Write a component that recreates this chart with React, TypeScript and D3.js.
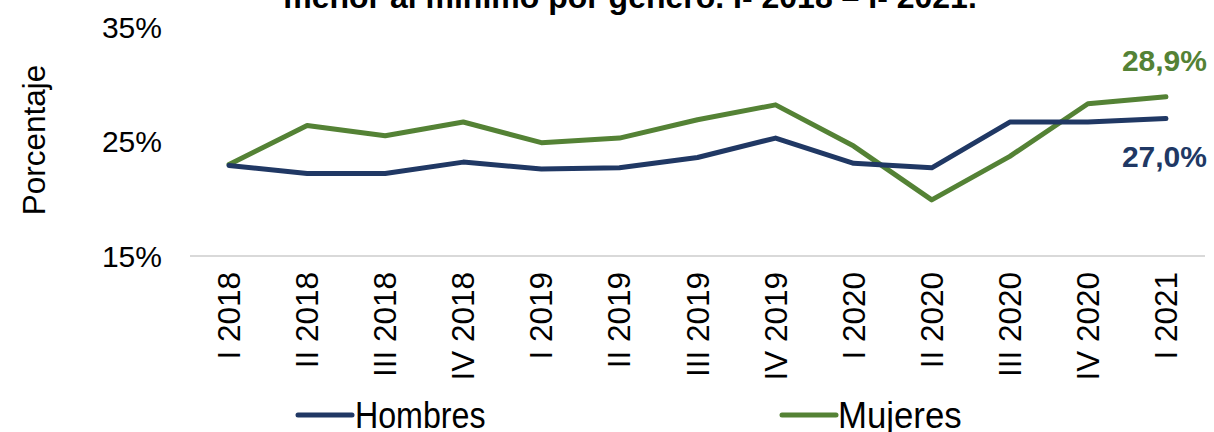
import { scalePoint, scaleLinear, line as d3_line } from "d3"

const categories = [
  "I 2018", "II 2018", "III 2018", "IV 2018",
  "I 2019", "II 2019", "III 2019", "IV 2019",
  "I 2020", "II 2020", "III 2020", "IV 2020",
  "I 2021",
]
const hombres = [22.9, 22.2, 22.2, 23.2, 22.6, 22.7, 23.6, 25.3, 23.1, 22.7, 26.7, 26.7, 27.0]
const mujeres = [23.0, 26.4, 25.5, 26.7, 24.9, 25.3, 26.9, 28.2, 24.6, 19.9, 23.7, 28.3, 28.9]
const yTicks = [15, 25, 35]
const title = "menor al mínimo por género. I- 2018 – I- 2021."

const W = 1214
const H = 432
const font = "'Liberation Sans', Arial, sans-serif"
const navy = "#203864"
const green = "#548235"

export default function App() {
  let x = scalePoint<string>().domain(categories).range([190, 1205]).padding(0.5)
  let y = scaleLinear().domain([15, 35]).range([256, 27])

  let line = d3_line<number>()
    .x((_, i) => x(categories[i]) ?? 0)
    .y((d) => y(d))

  let last = categories.length - 1
  let lastX = x(categories[last]) ?? 0

  return (
    <svg
      width={W}
      height={H}
      style={{ position: "absolute", left: 0, top: 0, background: "#fff" }}
      fontFamily={font}
    >
      {/* Title, cut off by the top edge */}
      <text x={630} y={8} textAnchor="middle" fontSize={32} fontWeight="bold" fill="#000">
        {title}
      </text>

      {/* Y axis title */}
      <text
        transform="translate(45,140) rotate(-90)"
        textAnchor="middle"
        fontSize={31.5}
        fill="#000"
      >
        Porcentaje
      </text>

      {/* Y tick labels */}
      {yTicks.map((t) => (
        <text key={t} x={162} y={y(t)} dy="0.35em" textAnchor="end" fontSize={30} fill="#000">
          {t}%
        </text>
      ))}

      {/* X axis line */}
      <line x1={190} x2={1205} y1={y(15)} y2={y(15)} stroke="#d9d9d9" strokeWidth={2} />

      {/* X tick labels */}
      {categories.map((c) => (
        <text
          key={c}
          transform={`translate(${x(c)},272) rotate(-90)`}
          dy="0.35em"
          textAnchor="end"
          fontSize={31.5}
          fill="#000"
        >
          {c}
        </text>
      ))}

      {/* Lines */}
      <path d={line(mujeres) ?? ""} fill="none" stroke={green} strokeWidth={5} strokeLinejoin="round" strokeLinecap="round" />
      <path d={line(hombres) ?? ""} fill="none" stroke={navy} strokeWidth={5} strokeLinejoin="round" strokeLinecap="round" />

      {/* Data labels */}
      <text x={lastX + 41} y={y(mujeres[last]) - 36} dy="0.35em" textAnchor="end" fontSize={30} fontWeight="bold" fill={green}>
        {mujeres[last].toFixed(1).replace(".", ",")}%
      </text>
      <text x={lastX + 41} y={y(hombres[last]) + 38} dy="0.35em" textAnchor="end" fontSize={30} fontWeight="bold" fill={navy}>
        {hombres[last].toFixed(1).replace(".", ",")}%
      </text>

      {/* Legend */}
      <line x1={298} x2={352} y1={415} y2={415} stroke={navy} strokeWidth={5} strokeLinecap="round" />
      <text transform="translate(355,428) scale(0.87,1)" fontSize={37} fill="#000">Hombres</text>
      <line x1={782} x2={836} y1={415} y2={415} stroke={green} strokeWidth={5} strokeLinecap="round" />
      <text transform="translate(838,428) scale(0.94,1)" fontSize={37} fill="#000">Mujeres</text>
    </svg>
  )
}
